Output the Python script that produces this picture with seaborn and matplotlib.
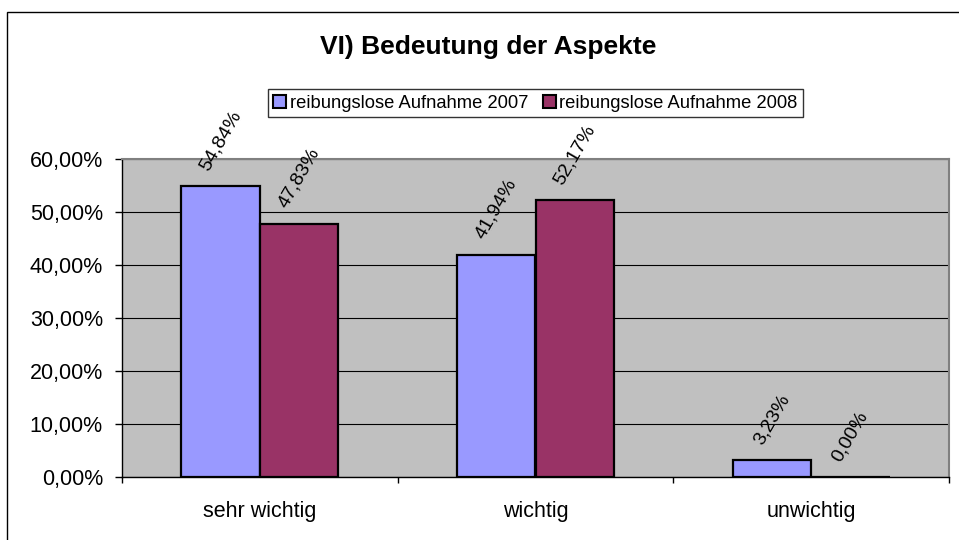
import matplotlib
matplotlib.use("Agg")
import matplotlib.pyplot as plt
import matplotlib.patches as mpatches
import seaborn as sns
import pandas as pd
import numpy as np

categories = ["sehr wichtig", "wichtig", "unwichtig"]
series_names = ["reibungslose Aufnahme 2007", "reibungslose Aufnahme 2008"]
values_2007 = [0.5484, 0.4194, 0.0323]
values_2008 = [0.4783, 0.5217, 0.0]
colors = ["#9999FF", "#993366"]
title = "VI) Bedeutung der Aspekte"

df = pd.DataFrame({
    "Kategorie": categories * 2,
    "Serie": [series_names[0]] * 3 + [series_names[1]] * 3,
    "Wert": values_2007 + values_2008,
})

sns.set_theme(style="white")
plt.rcParams["font.family"] = ["Liberation Sans", "DejaVu Sans"]
plt.rcParams["text.color"] = "black"
plt.rcParams["xtick.color"] = "black"
plt.rcParams["ytick.color"] = "black"
plt.rcParams["axes.labelcolor"] = "black"

W, H = 959, 540
fig = plt.figure(figsize=(W / 100, H / 100), dpi=100)
fig.patch.set_facecolor("white")

# outer chart frame
fig.patches.append(mpatches.Rectangle((7 / W, -0.05), 1.2, 1 - 12 / H + 0.05,
                                      transform=fig.transFigure, fill=False,
                                      edgecolor="black", linewidth=1.0))

ax = fig.add_axes([122 / W, 1 - 477 / H, (949 - 122) / W, (477 - 159) / H])
sns.barplot(data=df, x="Kategorie", y="Wert", hue="Serie", order=categories,
            hue_order=series_names, palette=colors, width=0.57, gap=0,
            edgecolor="black", linewidth=1.6, saturation=1, ax=ax, legend=False)

ax.set_facecolor("#C0C0C0")
ax.set_ylim(0, 0.6)
ax.set_xlim(-0.5, 2.5)
yt = np.arange(0, 0.61, 0.1)
ax.set_yticks(yt)
ax.set_yticklabels([f"{v*100:.2f}%".replace(".", ",") for v in yt], fontsize=15.5)
ax.yaxis.grid(True, color="black", linewidth=0.8)
ax.set_axisbelow(True)
ax.set_xlabel("")
ax.set_ylabel("")

ax.set_xticks([0, 1, 2])
ax.set_xticklabels(categories, fontsize=15.5)
ax.set_xticks([-0.5, 0.5, 1.5, 2.5], minor=True)
ax.tick_params(axis="x", which="major", length=0, pad=17.5)
ax.tick_params(axis="x", which="minor", length=4.3, width=1, color="black", direction="out", bottom=True)
ax.tick_params(axis="y", which="major", length=5, width=1, color="black", direction="out", left=True, pad=8.7)

for side in ["top", "right"]:
    ax.spines[side].set_color("#808080")
    ax.spines[side].set_linewidth(1.5)
for side in ["left", "bottom"]:
    ax.spines[side].set_color("black")
    ax.spines[side].set_linewidth(1.0)

for cont in ax.containers:
    labels = [f"{b.get_height()*100:.2f}%".replace(".", ",") for b in cont]
    ax.bar_label(cont, labels=labels, rotation=60, padding=9, fontsize=14, color="black")

fig.text(488.5 / W, 1 - 47 / H, title, ha="center", va="center",
         fontsize=19, fontweight="bold", color="black")

handles = [mpatches.Patch(facecolor=c, edgecolor="black", linewidth=1.5) for c in colors]
leg = fig.legend(handles, series_names, loc="center", ncol=2,
                 bbox_to_anchor=(535.5 / W, 1 - 103 / H), fontsize=13.2,
                 frameon=True, fancybox=False, edgecolor="black",
                 handlelength=0.7, handleheight=0.7, handletextpad=0.2,
                 columnspacing=0.8, borderpad=0.3, borderaxespad=0)
leg.get_frame().set_linewidth(1.0)
for t in leg.get_texts():
    t.set_color("black")

fig.savefig("out.png", dpi=100)
